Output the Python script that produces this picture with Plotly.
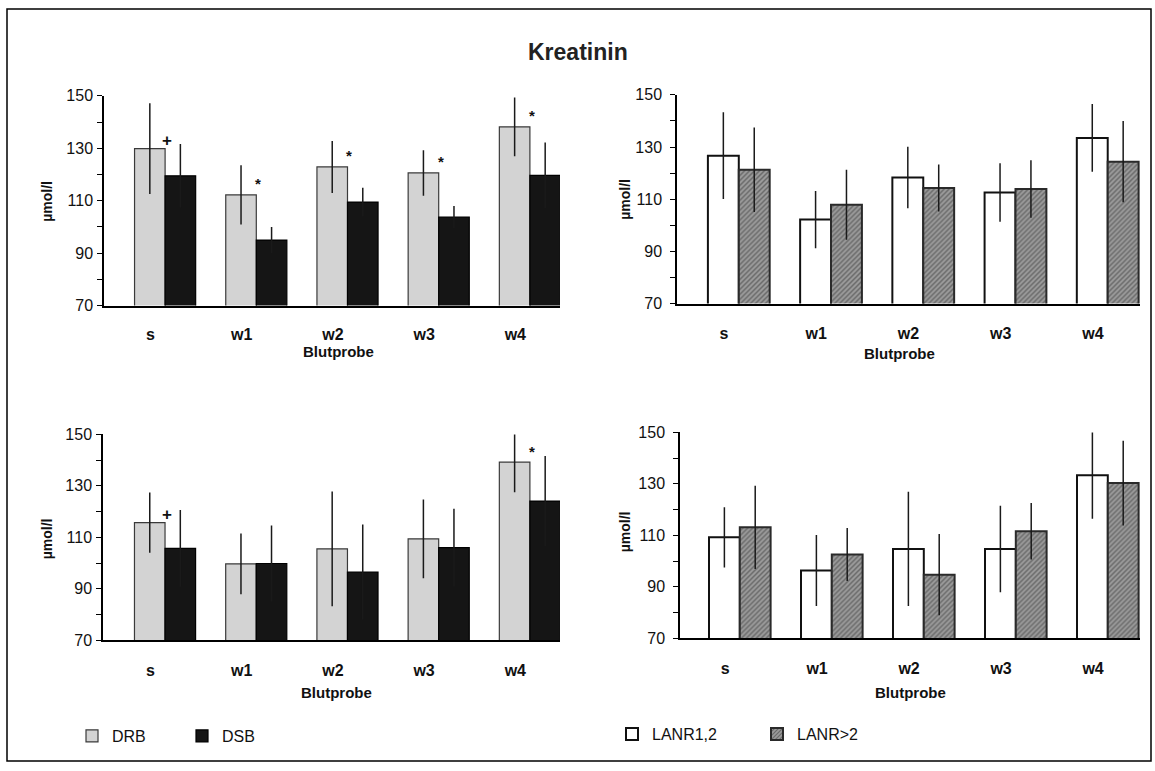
import plotly.graph_objects as go

# Blood sampling time points
categories = ["s", "w1", "w2", "w3", "w4"]

# Top left panel: DRB vs. DSB (mean, SD)
drb_top = [129.9, 112.2, 122.9, 120.6, 138.2]
drb_top_sd = [17.3, 11.3, 9.9, 8.7, 11.2]
dsb_top = [119.5, 95.0, 109.5, 103.8, 119.7]
dsb_top_sd = [12.1, 5.0, 5.5, 4.2, 12.5]
sig_top = ["+", "*", "*", "*", "*"]

# Top right panel: LANR1,2 vs. LANR>2
lanr12_top = [126.7, 102.2, 118.3, 112.6, 133.5]
lanr12_top_sd = [16.6, 11.0, 11.8, 11.2, 13.0]
lanr3_top = [121.3, 107.9, 114.3, 113.9, 124.4]
lanr3_top_sd = [16.2, 13.4, 9.0, 11.0, 15.6]

# Bottom left panel: DRB vs. DSB
drb_bot = [115.7, 99.7, 105.5, 109.4, 139.2]
drb_bot_sd = [11.7, 11.8, 22.3, 15.3, 11.7]
dsb_bot = [105.7, 99.8, 96.5, 106.0, 124.1]
dsb_bot_sd = [14.9, 14.8, 18.5, 15.1, 17.5]
sig_bot = ["+", "", "", "", "*"]

# Bottom right panel: LANR1,2 vs. LANR>2
lanr12_bot = [109.2, 96.3, 104.7, 104.7, 133.4]
lanr12_bot_sd = [11.7, 13.8, 22.2, 16.8, 17.0]
lanr3_bot = [113.1, 102.5, 94.7, 111.6, 130.3]
lanr3_bot_sd = [16.2, 10.3, 15.8, 11.0, 16.5]

y_ticks = [70, 80, 90, 100, 110, 120, 130, 140, 150]
y_ticktext = ["70", "", "90", "", "110", "", "130", "", "150"]

W, H = 1155, 771
FONT = "Arial, Liberation Sans, sans-serif"
BAR_W = 0.335
pos = list(range(len(categories)))

STYLE = {
    "DRB": dict(marker=dict(color="#d3d3d3", line=dict(color="#3a3a3a", width=1.2))),
    "DSB": dict(marker=dict(color="#151515", line=dict(color="#000000", width=1.2))),
    "LANR1,2": dict(marker=dict(color="#ffffff", line=dict(color="#111111", width=2))),
    "LANR>2": dict(marker=dict(color="#9c9c9c", line=dict(color="#2a2a2a", width=2),
                               pattern=dict(shape="/", fillmode="overlay", fgcolor="#333333",
                                            size=3.5, solidity=0.42))),
}


def px_x(v):
    return v / W


# vertical positions are given in pixels on a 755 px tall canvas starting 8 px down
def px_y(v):
    return 1 - (v - 8) / 755


fig = go.Figure()


def add_pair(ax, names, values, sds, legend, show):
    for k, (name, vals, sd) in enumerate(zip(names, values, sds)):
        fig.add_trace(go.Bar(
            x=pos, y=vals, width=BAR_W, offset=-BAR_W if k == 0 else 0,
            name=name, legend=legend, showlegend=show,
            xaxis="x" + ax, yaxis="y" + ax,
            error_y=dict(type="data", array=sd, visible=True, color="#1a1a1a",
                         thickness=1.5, width=0),
            **STYLE[name],
        ))


add_pair("", ["DRB", "DSB"], [drb_top, dsb_top], [drb_top_sd, dsb_top_sd], "legend", True)
add_pair("2", ["LANR1,2", "LANR>2"], [lanr12_top, lanr3_top], [lanr12_top_sd, lanr3_top_sd], "legend2", True)
add_pair("3", ["DRB", "DSB"], [drb_bot, dsb_bot], [drb_bot_sd, dsb_bot_sd], "legend", False)
add_pair("4", ["LANR1,2", "LANR>2"], [lanr12_bot, lanr3_bot], [lanr12_bot_sd, lanr3_bot_sd], "legend2", False)

# Panel boxes in pixels: left, right, top, bottom
panels = {
    "": (104, 560, 96, 306),
    "2": (677, 1140, 95, 304),
    "3": (103, 560, 435, 641),
    "4": (680, 1140, 433, 639),
}
x_ranges = {"": [-0.67, 4.33], "2": [-0.67, 4.35], "3": [-0.68, 4.33], "4": [-0.65, 4.35]}
label_gap = {"": 1, "2": 5, "3": 1, "4": 5}
cat_gap = {"": 13, "2": 14, "3": 15, "4": 15}

layout = {}
for ax, (l, r, t, b) in panels.items():
    layout["xaxis" + ax] = dict(
        domain=[px_x(l), px_x(r)], anchor="y" + ax, range=x_ranges[ax],
        tickvals=[p - 0.16 for p in pos], ticktext=categories, ticks="",
        showline=True, linecolor="#000000", linewidth=1.5, showgrid=False, zeroline=False,
        tickfont=dict(family=FONT, size=16, color="#111111", weight="bold"),
        ticklabelstandoff=cat_gap[ax], fixedrange=True,
    )
    layout["yaxis" + ax] = dict(
        domain=[px_y(b), px_y(t)], anchor="x" + ax, range=[70, 150],
        tickvals=y_ticks, ticktext=y_ticktext, ticks="outside", ticklen=5,
        tickwidth=1, tickcolor="#000000", showline=True, linecolor="#000000",
        linewidth=1.5, showgrid=False, zeroline=False,
        tickfont=dict(family=FONT, size=16, color="#111111"),
        ticklabelstandoff=label_gap[ax], fixedrange=True,
    )

annotations = [
    dict(text="<b>Kreatinin</b>", x=px_x(578), y=px_y(52), xref="paper", yref="paper",
         xanchor="center", yanchor="middle", showarrow=False,
         font=dict(family=FONT, size=23, color="#222222")),
]
for x, y in [(338, 352), (899, 354), (336, 693), (910, 693)]:
    annotations.append(dict(text="<b>Blutprobe</b>", x=px_x(x), y=px_y(y), xref="paper", yref="paper",
                            xanchor="center", yanchor="middle", showarrow=False,
                            font=dict(family=FONT, size=15, color="#111111")))
for x, y in [(47, 202), (625, 200), (47, 540), (625, 533)]:
    annotations.append(dict(text="<b>µmol/l</b>", x=px_x(x), y=px_y(y), xref="paper", yref="paper",
                            xanchor="center", yanchor="middle", textangle=-90, showarrow=False,
                            font=dict(family=FONT, size=14, color="#111111")))

# Significance marks above the DRB bars
for ax, marks, vals in [("", sig_top, drb_top), ("3", sig_bot, drb_bot)]:
    for p, m, v in zip(pos, marks, vals):
        if m:
            annotations.append(dict(text="<b>" + m + "</b>", x=p + 0.02, y=v,
                                    xref="x" + ax, yref="y" + ax, showarrow=False,
                                    xanchor="center", yanchor="middle",
                                    yshift=8 if m == "+" else 11,
                                    font=dict(family=FONT, size=17 if m == "+" else 15,
                                              color="#111111")))

shapes = [
    dict(type="rect", xref="paper", yref="paper", x0=px_x(7), x1=px_x(1151),
         y0=px_y(762), y1=px_y(9), line=dict(color="#000000", width=1.5)),
]

fig.update_layout(
    width=W, height=H, autosize=False,
    margin=dict(l=0, r=0, t=0, b=0),
    paper_bgcolor="#ffffff", plot_bgcolor="#ffffff",
    barmode="overlay",
    font=dict(family=FONT, color="#111111"),
    annotations=annotations, shapes=shapes,
    legend=dict(orientation="h", x=px_x(72), y=px_y(737), xanchor="left", yanchor="middle",
                font=dict(family=FONT, size=16, color="#111111"), entrywidth=65,
                entrywidthmode="pixels", bgcolor="rgba(0,0,0,0)", traceorder="normal"),
    legend2=dict(orientation="h", x=px_x(612), y=px_y(735), xanchor="left", yanchor="middle",
                 font=dict(family=FONT, size=16, color="#111111"), entrywidth=100,
                 entrywidthmode="pixels", bgcolor="rgba(0,0,0,0)", traceorder="normal"),
    **layout,
)

fig.write_html("out.html")
